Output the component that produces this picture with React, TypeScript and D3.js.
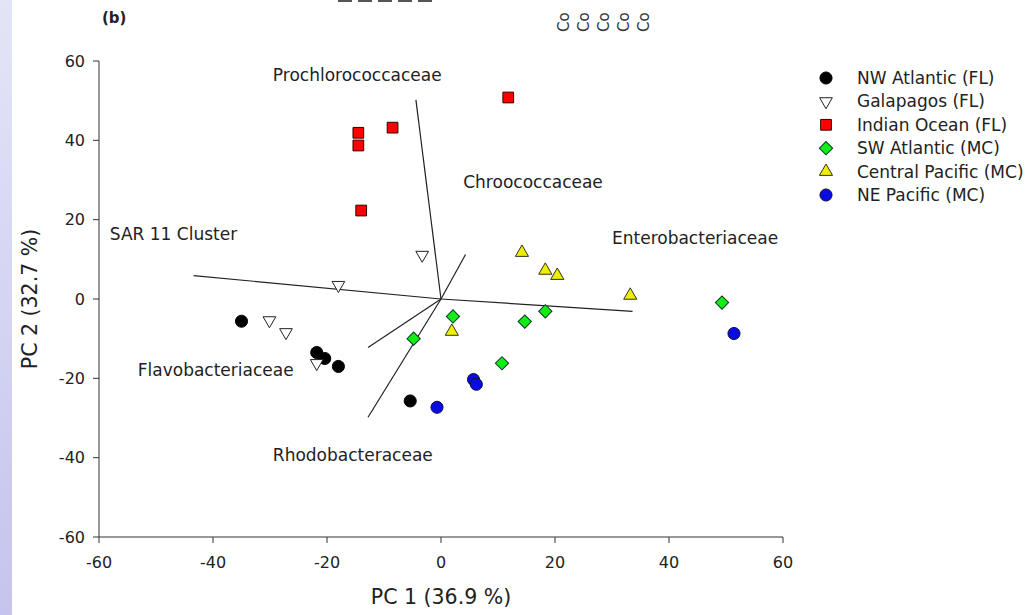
import React from 'react';
import * as d3 from 'd3';

// sample scores
const nwAtlanticX = [-35, -21.8, -20.4, -18, -5.4];
const nwAtlanticY = [-5.6, -13.5, -15, -17, -25.7];
const galapagosX = [-30.1, -27.2, -21.8, -18, -3.3];
const galapagosY = [-5.4, -8.4, -16.2, 3.5, 11.1];
const indianX = [-14.5, -14.5, -8.5, -14, 11.8];
const indianY = [41.9, 38.7, 43.2, 22.3, 50.8];
const swAtlanticX = [49.3, 2.1, 14.7, 18.3, -4.8, 10.7];
const swAtlanticY = [-0.9, -4.4, -5.7, -3.1, -10, -16.2];
const centralPacX = [14.2, 18.3, 20.4, 33.2, 1.9];
const centralPacY = [11.7, 7.2, 5.9, 0.9, -8.2];
const nePacX = [51.4, 5.7, 6.2, -0.7];
const nePacY = [-8.7, -20.3, -21.5, -27.3];

const seriesNames = ['NW Atlantic (FL)', 'Galapagos (FL)', 'Indian Ocean (FL)', 'SW Atlantic (MC)', 'Central Pacific (MC)', 'NE Pacific (MC)'];

// loading vectors
const vectorNames = ['SAR 11 Cluster', 'Prochlorococcaceae', 'Chroococcaceae', 'Enterobacteriaceae', 'Flavobacteriaceae', 'Rhodobacteraceae'];
const vectorX = [-43.4, -4.4, 4.3, 33.6, -12.8, -12.8];
const vectorY = [5.9, 50.2, 11.2, -3.1, -12.2, -29.8];
// where each vector label sits (data units, text start)
const labelX = [-58.1, -29.5, 3.9, 30, -53.2, -29.5];
const labelY = [16.4, 56.5, 29.5, 15.4, -17.9, -39.3];

const xTicks = [-60, -40, -20, 0, 20, 40, 60];
const yTicks = [-60, -40, -20, 0, 20, 40, 60];

const W = 1027;
const H = 615;
const FONT = '"DejaVu Sans", "Liberation Sans", Arial, sans-serif';

const x = d3.scaleLinear().domain([-60, 60]).range([99, 783]);
const y = d3.scaleLinear().domain([-60, 60]).range([537, 61]);

const styles = [
  { shape: d3.symbolCircle, size: 115, fill: '#000', stroke: '#000', rot: 0 },
  { shape: d3.symbolTriangle, size: 70, fill: '#fff', stroke: '#222', rot: 180 },
  { shape: d3.symbolSquare, size: 115, fill: '#ff0000', stroke: '#300', rot: 0 },
  { shape: d3.symbolSquare, size: 88, fill: '#11ee11', stroke: '#133', rot: 45 },
  { shape: d3.symbolTriangle, size: 75, fill: '#eeee00', stroke: '#332', rot: 0 },
  { shape: d3.symbolCircle, size: 115, fill: '#0a0ae6', stroke: '#113', rot: 0 },
];

const seriesX = [nwAtlanticX, galapagosX, indianX, swAtlanticX, centralPacX, nePacX];
const seriesY = [nwAtlanticY, galapagosY, indianY, swAtlanticY, centralPacY, nePacY];

const Marker = ({ i, cx, cy }: { i: number; cx: number; cy: number }) => {
  const s = styles[i];
  const path = d3.symbol().type(s.shape).size(s.size)() as string;
  return (
    <path
      d={path}
      transform={`translate(${cx},${cy}) rotate(${s.rot})`}
      fill={s.fill}
      stroke={s.stroke}
      strokeWidth={1}
    />
  );
};

const App = () => {
  const tickLen = 6;
  return (
    <svg
      width={W}
      height={H}
      style={{ position: 'absolute', left: 0, top: 0, background: '#fff' }}
      fontFamily={FONT}
    >
      <defs>
        <linearGradient id="band" x1="0" y1="0" x2="0" y2="1">
          <stop offset="0" stopColor="#e4e4f8" />
          <stop offset="1" stopColor="#c4c4ee" />
        </linearGradient>
      </defs>
      <rect x={0} y={0} width={12} height={H} fill="url(#band)" />

      {/* remnants of the panel above */}
      {[0, 1, 2, 3, 4].map((k) => (
        <line key={'u' + k} x1={338 + k * 20} x2={352 + k * 20} y1={1} y2={1} stroke="#555" strokeWidth={2} />
      ))}
      {[0, 1, 2, 3, 4].map((k) => (
        <text key={'c' + k} transform={`translate(569,32) translate(${k * 20},0) rotate(-90)`} fontSize={15} fill="#333">
          Co
        </text>
      ))}
      <text x={102} y={23} fontSize={15} fontWeight="bold" fill="#222">(b)</text>

      {/* axes */}
      <g stroke="#333" strokeWidth={1}>
        <line x1={x(-60)} x2={x(60)} y1={y(-60)} y2={y(-60)} />
        <line x1={x(-60)} x2={x(-60)} y1={y(-60)} y2={y(60)} />
        {xTicks.map((t) => (
          <line key={'xt' + t} x1={x(t)} x2={x(t)} y1={y(-60)} y2={y(-60) + tickLen} />
        ))}
        {yTicks.map((t) => (
          <line key={'yt' + t} x1={x(-60) - tickLen} x2={x(-60)} y1={y(t)} y2={y(t)} />
        ))}
      </g>
      <g fontSize={16} fill="#222">
        {xTicks.map((t) => (
          <text key={'xl' + t} x={x(t)} y={y(-60) + 31} textAnchor="middle">{t}</text>
        ))}
        {yTicks.map((t) => (
          <text key={'yl' + t} x={x(-60) - 14} y={y(t)} dy="0.35em" textAnchor="end">{t}</text>
        ))}
      </g>
      <text x={x(0)} y={604} fontSize={20.5} fill="#222" textAnchor="middle">PC 1 (36.9 %)</text>
      <text transform={`translate(37,${y(0)}) rotate(-90)`} fontSize={20.5} fill="#222" textAnchor="middle">
        PC 2 (32.7 %)
      </text>

      {/* loading vectors */}
      <g stroke="#222" strokeWidth={1.2}>
        {vectorNames.map((n, i) => (
          <line key={n} x1={x(0)} y1={y(0)} x2={x(vectorX[i])} y2={y(vectorY[i])} />
        ))}
      </g>
      <g fontSize={17} fill="#222">
        {vectorNames.map((n, i) => (
          <text key={n} x={x(labelX[i])} y={y(labelY[i])} dy="0.35em">{n}</text>
        ))}
      </g>

      {/* samples */}
      {seriesX.map((xs, i) => (
        <g key={seriesNames[i]}>
          {xs.map((v, j) => (
            <Marker key={j} i={i} cx={x(v)} cy={y(seriesY[i][j])} />
          ))}
        </g>
      ))}

      {/* legend */}
      {seriesNames.map((n, i) => (
        <g key={'lg' + n} transform={`translate(826,${78 + i * 23.4})`}>
          <Marker i={i} cx={0} cy={0} />
          <text x={31} y={0} dy="0.35em" fontSize={17} fill="#222">{n}</text>
        </g>
      ))}
    </svg>
  );
};

export default App;
